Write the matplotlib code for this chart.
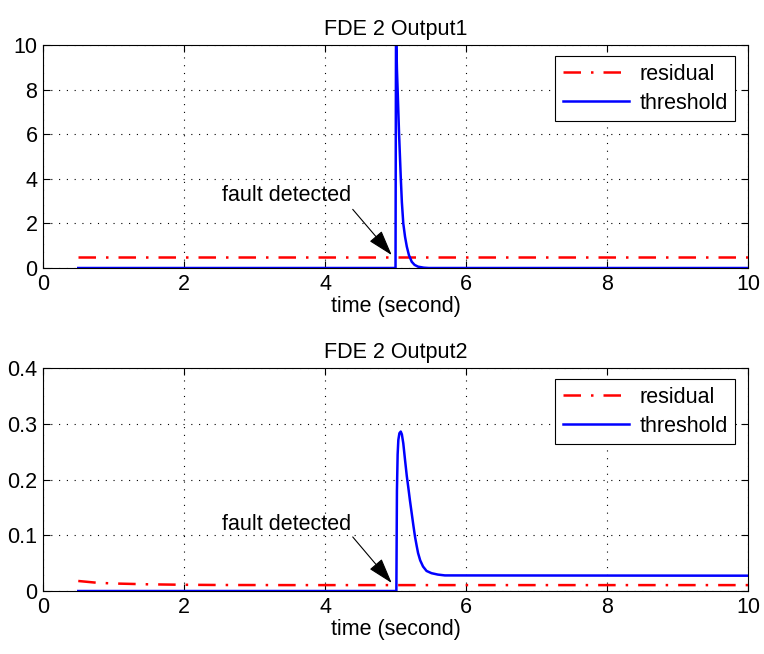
import numpy as np
import matplotlib.pyplot as plt

plt.rcParams['font.family'] = ['Liberation Sans', 'DejaVu Sans']

# output 1: residual / threshold
t1_res = [0.5, 10.0]
y1_res = [0.5, 0.5]
t1_thr = [0.5, 5.0, 5.007, 5.02, 5.03, 5.05, 5.074, 5.09, 5.11, 5.135, 5.16, 5.19,
          5.23, 5.27, 5.32, 5.40, 5.47, 10.0]
y1_thr = [0.0, 0.0, 10.8, 8.9, 7.98, 6.04, 4.09, 2.95, 2.0, 1.4, 0.96, 0.58,
          0.28, 0.14, 0.06, 0.015, 0.0, 0.0]

# output 2: residual / threshold
t2_res = [0.5, 0.75, 1.0, 1.5, 2.0, 2.5, 3.5, 10.0]
y2_res = [0.018, 0.015, 0.0135, 0.012, 0.0112, 0.0108, 0.0106, 0.0106]
t2_thr = [0.5, 5.012, 5.02, 5.03, 5.04, 5.055, 5.074, 5.09, 5.11, 5.135, 5.16, 5.18,
          5.205, 5.23, 5.255, 5.277, 5.30, 5.32, 5.35, 5.39, 5.44, 5.51, 5.60,
          5.70, 10.0]
y2_thr = [0.0, 0.0, 0.18, 0.245, 0.271, 0.283, 0.286, 0.281, 0.265, 0.235, 0.206, 0.187,
          0.162, 0.139, 0.116, 0.097, 0.081, 0.068, 0.055, 0.044, 0.036, 0.032, 0.0295,
          0.028, 0.0275]

titles = ['FDE 2 Output1', 'FDE 2 Output2']
ylims = [(0, 10), (0, 0.4)]
yticks = [[0, 2, 4, 6, 8, 10], [0, 0.1, 0.2, 0.3, 0.4]]
ytick_labels = [['0', '2', '4', '6', '8', '10'], ['0', '0.1', '0.2', '0.3', '0.4']]
xticks = [0, 2, 4, 6, 8, 10]

# annotation: text centre, arrow tail, arrow tip (data coords)
ann_text = [(3.46, 3.23), (3.46, 0.12)]
ann_tail = [(4.393, 2.63), (4.393, 0.097)]
ann_tip = [(4.946, 0.58), (4.946, 0.0144)]

FS = 15.5

fig = plt.figure(figsize=(7.64, 6.54), dpi=100)
ax1 = fig.add_axes([0.0563, 0.5902, 0.9228, 0.341])
ax2 = fig.add_axes([0.0563, 0.0963, 0.9228, 0.341])

data = [(t1_res, y1_res, t1_thr, y1_thr), (t2_res, y2_res, t2_thr, y2_thr)]

for i, ax in enumerate([ax1, ax2]):
    tr, yr, tt, yt = data[i]
    ax.plot(tr, yr, color='red', ls='-.', lw=1.8, dashes=(7, 4, 1, 4), label='residual')
    ax.plot(tt, yt, color='blue', ls='-', lw=1.8, label='threshold')
    ax.set_xlim(0, 10)
    ax.set_ylim(*ylims[i])
    ax.set_xticks(xticks)
    ax.set_yticks(yticks[i])
    ax.set_yticklabels(ytick_labels[i])
    ax.tick_params(direction='in', top=True, right=True, labelsize=FS, length=5,
                   width=0.8, pad=4)
    ax.grid(True, color='k', ls=(0, (1, 6)), lw=0.8)
    for s in ax.spines.values():
        s.set_linewidth(0.8)
    ax.set_title(titles[i], fontsize=FS, pad=7)
    ax.set_xlabel('time (second)', fontsize=FS, labelpad=1)
    leg = ax.legend(loc='upper right', fontsize=FS, handlelength=3.1, fancybox=False,
                    framealpha=1, edgecolor='k', borderpad=0.35, labelspacing=0.38,
                    handletextpad=0.45, borderaxespad=0,
                    bbox_to_anchor=(0.9816, 0.9507))
    leg.get_frame().set_linewidth(0.8)
    ax.text(*ann_text[i], 'fault detected', fontsize=FS, ha='center', va='center')
    ax.annotate('', xy=ann_tip[i], xytext=ann_tail[i],
                arrowprops=dict(arrowstyle='-|>,head_length=0.8,head_width=0.25',
                                color='k', lw=0.8, mutation_scale=20,
                                shrinkA=0, shrinkB=0))

fig.savefig('out.png', dpi=100)
